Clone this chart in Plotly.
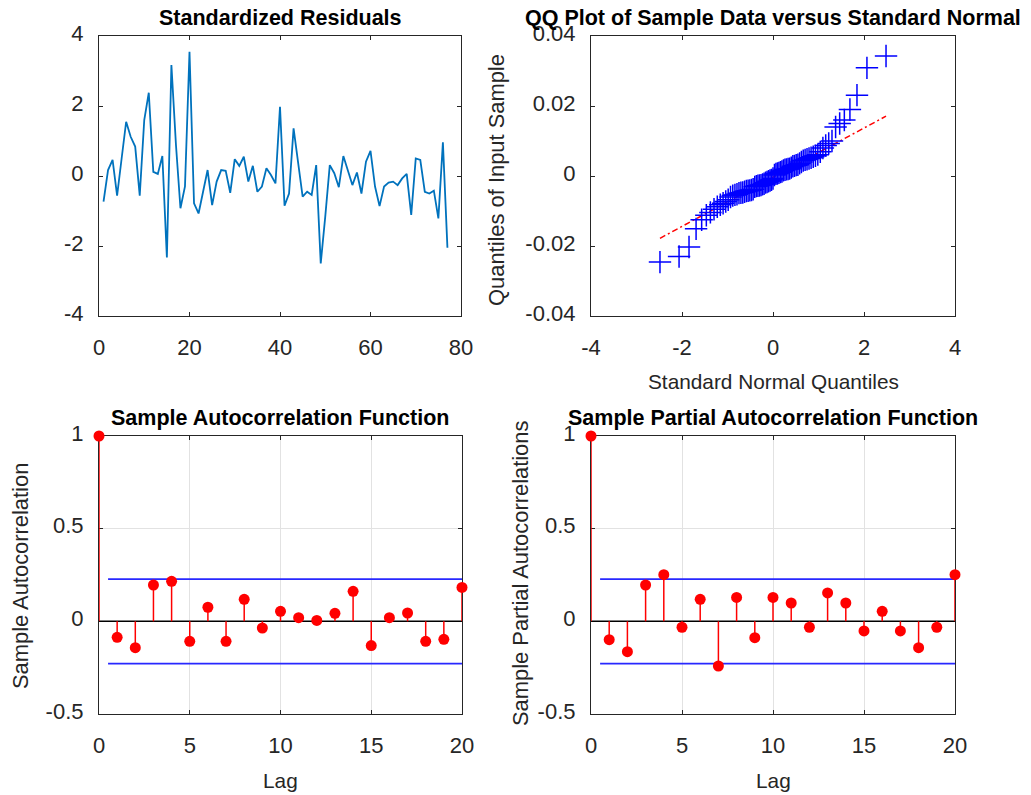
import plotly.graph_objects as go
from statistics import NormalDist

# ---------------- data ----------------
resid = [-0.73, 0.17, 0.46, -0.56, 0.50, 1.55, 1.12, 0.84, -0.56, 1.60,
         2.38, 0.12, 0.06, 0.57, -2.33, 3.17, 0.90, -0.92, -0.30, 3.55,
         -0.78, -1.07, -0.45, 0.17, -0.83, -0.16, 0.17, 0.15, -0.48, 0.48,
         0.29, 0.55, -0.16, 0.29, -0.45, -0.30, 0.22, 0.03, -0.21, 1.98,
         -0.85, -0.50, 1.36, 0.36, -0.59, -0.45, -0.54, 0.31, -2.50, -1.16,
         0.31, 0.08, -0.32, 0.57, 0.17, -0.26, 0.10, -0.50, 0.41, 0.72,
         -0.30, -0.86, -0.30, -0.19, -0.16, -0.26, -0.07, 0.06, -1.11, 0.50,
         0.46, -0.45, -0.50, -0.42, -1.21, 0.96, -2.05]
obs = list(range(1, len(resid) + 1))

# sorted sample data (QQ plot y values)
qq_sample = [-0.0246, -0.0230, -0.0203, -0.0151, -0.0125, -0.0112, -0.0104, -0.0095, -0.0088, -0.0082,
             -0.0078, -0.0073, -0.0068, -0.0060, -0.0056, -0.0054, -0.0052, -0.0049, -0.0048, -0.0047,
             -0.0045, -0.0043, -0.0042, -0.0041, -0.0040, -0.0038, -0.0031, -0.0029, -0.0028, -0.0027,
             -0.0026, -0.0024, -0.0022, -0.0019, -0.0017, -0.0015, -0.0013, -0.0011, -0.0007,
             0.0003, 0.0006, 0.0007, 0.0009, 0.0011, 0.0013, 0.0016, 0.0018, 0.0019, 0.0020,
             0.0021, 0.0024, 0.0028, 0.0029, 0.0031, 0.0032, 0.0036, 0.0040, 0.0044, 0.0046,
             0.0048, 0.0050, 0.0052, 0.0055, 0.0058, 0.0061, 0.0069, 0.0080, 0.0087, 0.0093,
             0.0100, 0.0140, 0.0150, 0.0160, 0.0190, 0.0231, 0.0309, 0.0343]
# theoretical standard normal quantiles for the sample positions
n_qq = len(qq_sample)
qq_theory = [NormalDist().inv_cdf((i - 0.5) / n_qq) for i in range(1, n_qq + 1)]
# reference line end points
ref_x = [-2.484, 2.484]
ref_y = [-0.0178, 0.0171]

lags = list(range(0, 21))
acf = [1.0, -0.086, -0.142, 0.196, 0.216, -0.108, 0.076, -0.108, 0.119, -0.036, 0.054,
       0.020, 0.005, 0.043, 0.162, -0.131, 0.020, 0.045, -0.108, -0.097, 0.183]
pacf = [1.0, -0.099, -0.164, 0.196, 0.252, -0.032, 0.119, -0.241, 0.129, -0.088, 0.129,
        0.099, -0.032, 0.153, 0.099, -0.052, 0.054, -0.052, -0.142, -0.032, 0.252]
conf_bound = 0.228
bound_x = [0.5, 20]

# tick labels
resid_xticks = [0, 20, 40, 60, 80]
resid_yticks = [-4, -2, 0, 2, 4]
qq_xticks = [-4, -2, 0, 2, 4]
qq_yticks = [-0.04, -0.02, 0, 0.02, 0.04]
qq_ytext = ["-0.04", "-0.02", "0", "0.02", "0.04"]
lag_ticks = [0, 5, 10, 15, 20]
corr_ticks = [-0.5, 0, 0.5, 1]
corr_text = ["-0.5", "0", "0.5", "1"]

# ---------------- figure ----------------
W, H = 1031, 795
OFF = 8  # page body margin
FONT = "Liberation Sans, Arial, Helvetica, sans-serif"
TXT = "#262626"


def px_x(p):
    return (p - OFF) / W


def px_y(p):
    return 1 - (p - OFF) / H


def hy(v):
    return ["-" + str(abs(t)) if t < 0 else str(t) for t in v]


fig = go.Figure()

# Standardized residuals
fig.add_trace(go.Scatter(x=obs, y=resid, mode="lines",
                         line=dict(color="#0072BD", width=1.8),
                         xaxis="x", yaxis="y", showlegend=False))

# QQ plot
fig.add_trace(go.Scatter(x=ref_x, y=ref_y, mode="lines",
                         line=dict(color="#ff0000", width=1.5, dash="6px,3px,2px,3px"),
                         xaxis="x2", yaxis="y2", showlegend=False))
fig.add_trace(go.Scatter(x=qq_theory, y=qq_sample, mode="markers",
                         marker=dict(symbol="cross-thin", size=16,
                                     line=dict(color="#0000ff", width=1.5)),
                         xaxis="x2", yaxis="y2", showlegend=False, cliponaxis=False))


def stem_panel(vals, xa, ya):
    sx, sy = [], []
    for l, v in zip(lags, vals):
        sx += [l, l, None]
        sy += [0, v, None]
    fig.add_trace(go.Scatter(x=[lags[0], lags[-1]], y=[0, 0], mode="lines",
                             line=dict(color="#000000", width=1.5),
                             xaxis=xa, yaxis=ya, showlegend=False))
    for b in (conf_bound, -conf_bound):
        fig.add_trace(go.Scatter(x=bound_x, y=[b, b], mode="lines",
                                 line=dict(color="#2828ff", width=1.8),
                                 xaxis=xa, yaxis=ya, showlegend=False))
    fig.add_trace(go.Scatter(x=sx, y=sy, mode="lines",
                             line=dict(color="#ff0000", width=1.5),
                             xaxis=xa, yaxis=ya, showlegend=False, cliponaxis=False))
    fig.add_trace(go.Scatter(x=lags, y=vals, mode="markers",
                             marker=dict(color="#ff0000", size=11, line=dict(width=0)),
                             xaxis=xa, yaxis=ya, showlegend=False, cliponaxis=False))


stem_panel(acf, "x3", "y3")
stem_panel(pacf, "x4", "y4")

common = dict(showline=True, linecolor=TXT, linewidth=1.2, mirror="ticks",
              ticks="inside", ticklen=4, tickcolor=TXT, zeroline=False,
              automargin=False, tickfont=dict(family=FONT, size=22, color=TXT))
xcommon = dict(common, ticklabelstandoff=11)
ycommon = dict(common, ticklabelstandoff=10, ticklabelshift=-3)

L1, R1 = px_x(99), px_x(461)
L2, R2 = px_x(591), px_x(955)
T1, B1 = px_y(36), px_y(316)
T2, B2 = px_y(436), px_y(714)
grid = dict(showgrid=True, gridcolor="#e2e2e2", gridwidth=1, layer="below traces")

fig.update_layout(
    width=W, height=H, autosize=False,
    margin=dict(l=0, r=0, t=0, b=0),
    paper_bgcolor="white", plot_bgcolor="white",
    template="none",
    font=dict(family=FONT, color=TXT),
    xaxis=dict(xcommon, domain=[L1, R1], range=[0, 80], tickvals=resid_xticks,
               ticktext=hy(resid_xticks), anchor="y", showgrid=False),
    yaxis=dict(ycommon, domain=[B1, T1], range=[-4, 4], tickvals=resid_yticks,
               ticktext=hy(resid_yticks), anchor="x", showgrid=False),
    xaxis2=dict(xcommon, domain=[L2, R2], range=[-4, 4], tickvals=qq_xticks,
                ticktext=hy(qq_xticks), anchor="y2", showgrid=False),
    yaxis2=dict(ycommon, domain=[B1, T1], range=[-0.04, 0.04], tickvals=qq_yticks,
                ticktext=qq_ytext, anchor="x2", showgrid=False),
    xaxis3=dict(xcommon, domain=[L1, px_x(462)], range=[0, 20], tickvals=lag_ticks,
                ticktext=hy(lag_ticks), anchor="y3", **grid),
    yaxis3=dict(ycommon, domain=[B2, T2], range=[-0.5, 1], tickvals=corr_ticks,
                ticktext=corr_text, anchor="x3", **grid),
    xaxis4=dict(xcommon, domain=[L2, R2], range=[0, 20], tickvals=lag_ticks,
                ticktext=hy(lag_ticks), anchor="y4", **grid),
    yaxis4=dict(ycommon, domain=[B2, T2], range=[-0.5, 1], tickvals=corr_ticks,
                ticktext=corr_text, anchor="x4", **grid),
)

TITLE_FONT = dict(family=FONT, size=21.5, color="#000000")
LABEL_FONT = dict(family=FONT, size=20.8, color=TXT)
VLABEL_FONT = dict(family=FONT, size=21.9, color=TXT)


def ann(text, x, y, font, angle=0):
    fig.add_annotation(text=text, x=px_x(x), y=px_y(y), xref="paper", yref="paper",
                       xanchor="center", yanchor="middle", showarrow=False,
                       font=font, textangle=angle, borderpad=0)


ann("<b>Standardized Residuals</b>", 280, 18, TITLE_FONT)
ann("<b>QQ Plot of Sample Data versus Standard Normal</b>", 773, 18, TITLE_FONT)
ann("<b>Sample Autocorrelation Function</b>", 280, 418, TITLE_FONT)
ann("<b>Sample Partial Autocorrelation Function</b>", 773, 418, TITLE_FONT)
ann("Standard Normal Quantiles", 773, 381, LABEL_FONT)
ann("Quantiles of Input Sample", 497, 180, VLABEL_FONT, -90)
ann("Sample Autocorrelation", 20, 576, VLABEL_FONT, -90)
ann("Sample Partial Autocorrelations", 520, 574, VLABEL_FONT, -90)
ann("Lag", 280, 780, LABEL_FONT)
ann("Lag", 773, 780, LABEL_FONT)

fig.write_html("out.html")
